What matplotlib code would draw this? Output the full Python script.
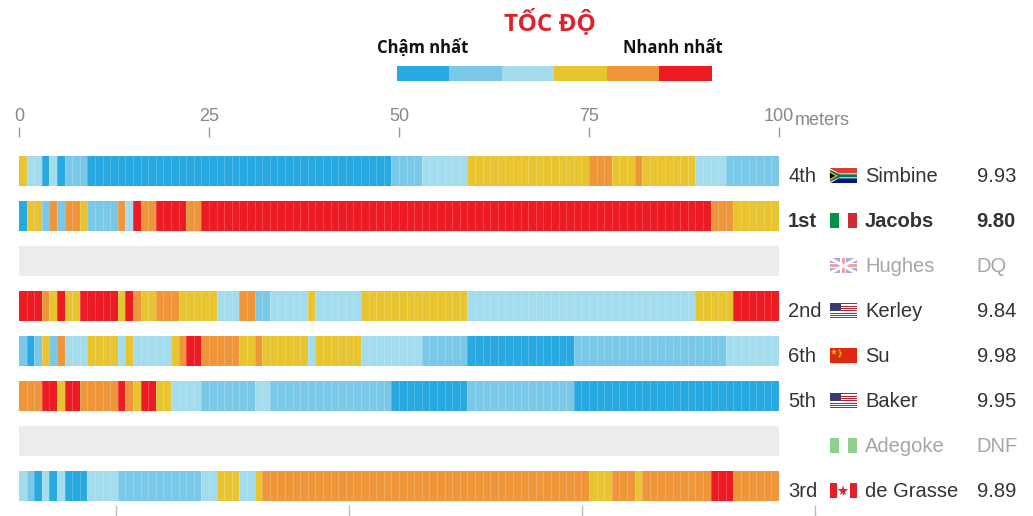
import numpy as np
import matplotlib
matplotlib.use("Agg")
import matplotlib.pyplot as plt
from matplotlib.patches import Polygon

plt.rcParams['font.family'] = ['Liberation Sans', 'DejaVu Sans']

# speed level per metre, 0 = slowest ... 5 = fastest (None = no data)
speed_colors = ['#29a9e1', '#79c8e8', '#a3dcec', '#e8c530', '#f0963a', '#ed1c24']

simbine = ("3220201110" "0000000000" "0000000000" "0000000000" "0000000001"
           "1112222223" "3333333333" "3333344433" "3433333332" "2221111111")
jacobs = ("0331414431" "1114254455" "5544555555" "5555555555" "5555555555"
          "5555555555" "5555555555" "5555555555" "5555555555" "5444333333")
kerley = ("5554353355" "5553543344" "4333332224" "4112222232" "2222233333"
          "3333333332" "2222222222" "2222222222" "2222222223" "3333555555")
su = ("1013142223" "3332322222" "3455444443" "3433333323" "3333322222"
      "2221111110" "0000000000" "0001111111" "1111111111" "1112222222")
baker = ("4445535544" "4445435533" "2222111111" "1221111111" "1111111110"
         "0000000001" "1111111111" "1110000000" "0000000000" "0000000000")
degrasse = ("2102020002" "2221111111" "1111223332" "2344444444" "4444444444"
            "4444444444" "4444444444" "4444433344" "4344444444" "4555444444")

names = ['Simbine', 'Jacobs', 'Hughes', 'Kerley', 'Su', 'Baker', 'Adegoke', 'de Grasse']
ranks = ['4th', '1st', '', '2nd', '6th', '5th', '', '3rd']
times = ['9.93', '9.80', 'DQ', '9.84', '9.98', '9.95', 'DNF', '9.89']
countries = ['RSA', 'ITA', 'GBR', 'USA', 'CHN', 'USA', 'NGR', 'CAN']
speeds = [simbine, jacobs, None, kerley, su, baker, None, degrasse]

x_ticks = [0, 25, 50, 75, 100]
lower_ticks = [12.8, 43.4, 74.1, 104.7]

W, H = 1033, 516
fig = plt.figure(figsize=(W / 100, H / 100), dpi=100)
ax = fig.add_axes([19 / W, 1 - 508.5 / H, 760 / W, 360 / H])
ax.set_xlim(0, 100)
ax.set_ylim(7.5, -0.5)
bh = 30 / 45
px = 100 / 760   # data units per pixel in x
py = 1 / 45      # data units per pixel in y

for i, s in enumerate(speeds):
    if s is None:
        ax.barh(i, 100, left=0, height=bh, color='#ececec', linewidth=0)
        continue
    vals = [int(c) for c in s]
    ax.barh(i, 1, left=np.arange(len(vals)), height=bh,
            color=[speed_colors[v] for v in vals], linewidth=0)
    ax.vlines(np.arange(1, len(vals)), i - bh / 2, i + bh / 2,
              colors='white', alpha=0.2, linewidth=0.7)

ax.vlines(lower_ticks, 7.42, 7.68, colors='#bbbbbb', linewidth=1, clip_on=False)

# top axis
for sp in ax.spines.values():
    sp.set_visible(False)
ax.spines['top'].set_position(('outward', 8.3))
ax.xaxis.tick_top()
ax.set_xticks(x_ticks)
ax.set_xticklabels([str(t) for t in x_ticks])
ax.tick_params(axis='x', top=True, bottom=False, length=7, width=1,
               color='#999999', labelcolor='#888888', labelsize=13, pad=1.5)
ax.set_yticks([])
fig.text(795 / W, 1 - 125 / H, 'meters', color='#888888', fontsize=13, va='baseline')


def flag(ax, name, x0, yc):
    fw, fh = 27, 15

    def P(pts):
        return [(x0 + a * px, yc - fh / 2 * py + b * py) for a, b in pts]

    def rect(a, b, w, h, c):
        ax.add_patch(Polygon(P([(a, b), (a + w, b), (a + w, b + h), (a, b + h)]),
                             closed=True, color=c, linewidth=0, clip_on=False))

    def poly(pts, c):
        ax.add_patch(Polygon(P(pts), closed=True, color=c, linewidth=0, clip_on=False))

    if name == 'RSA':
        rect(0, 0, fw, fh / 2, '#e03c31')
        rect(0, fh / 2, fw, fh / 2, '#001489')
        poly([(0, 0), (9, 5), (fw, 5), (fw, 10), (9, 10), (0, fh)], 'white')
        poly([(0, 1.5), (10, 6), (fw, 6), (fw, 9), (10, 9), (0, 13.5)], '#007749')
        poly([(0, 3), (8, 7.5), (0, 12)], '#ffb81c')
        poly([(0, 4.5), (5.5, 7.5), (0, 10.5)], 'black')
    elif name == 'ITA':
        rect(0, 0, 9, fh, '#009246')
        rect(18, 0, 9, fh, '#ce2b37')
    elif name == 'GBR':
        rect(0, 0, fw, fh, '#a5acd6')
        ax.plot([x0, x0 + fw * px], [yc - fh / 2 * py, yc + fh / 2 * py],
                color='white', lw=2.2, clip_on=False)
        ax.plot([x0, x0 + fw * px], [yc + fh / 2 * py, yc - fh / 2 * py],
                color='white', lw=2.2, clip_on=False)
        rect(10.5, 0, 6, fh, 'white')
        rect(0, 5, fw, 5, 'white')
        rect(12, 0, 3, fh, '#f2a0a8')
        rect(0, 6, fw, 3, '#f2a0a8')
    elif name == 'USA':
        sh = fh / 13
        for k in range(13):
            rect(0, k * sh, fw, sh, '#b22234' if k % 2 == 0 else 'white')
        rect(0, 0, 11, 7 * sh, '#3c3b6e')
    elif name == 'CHN':
        rect(0, 0, fw, fh, '#de2910')
        ax.plot(x0 + 4.5 * px, yc - 3.5 * py, marker='*', color='#ffde00',
                markersize=5, clip_on=False, markeredgewidth=0)
        for a, b in [(9, 1.5), (10.5, 3.5), (10.5, 6), (9, 7.5)]:
            ax.plot(x0 + a * px, yc - fh / 2 * py + b * py, marker='*',
                    color='#ffde00', markersize=2.2, clip_on=False, markeredgewidth=0)
    elif name == 'NGR':
        rect(0, 0, 9, fh, '#8fcf8f')
        rect(18, 0, 9, fh, '#8fcf8f')
    elif name == 'CAN':
        rect(0, 0, 7, fh, '#e3202a')
        rect(20, 0, 7, fh, '#e3202a')
        ax.plot(x0 + 13.5 * px, yc + 0.3 * py, marker='*', color='#e3202a',
                markersize=8, clip_on=False, markeredgewidth=0)
        rect(13, 9, 1, 3, '#e3202a')


for i in range(len(names)):
    grey = speeds[i] is None
    col = '#a6a6a6' if grey else '#333333'
    fw_ = 'bold' if ranks[i] == '1st' else 'normal'
    yb = i + 0.245
    ax.text(101.2, yb, ranks[i], color=col, fontsize=14.5, fontweight=fw_,
            va='baseline', ha='left', clip_on=False)
    ax.text(111.3, yb, names[i], color=col, fontsize=14.5, fontweight=fw_,
            va='baseline', ha='left', clip_on=False)
    ax.text(126.0, yb, times[i], color=col, fontsize=14.5, fontweight=fw_,
            va='baseline', ha='left', clip_on=False)
    flag(ax, countries[i], 106.7, i + 0.107)

# legend
lax = fig.add_axes([396.7 / W, 1 - 81 / H, 315 / W, 15 / H])
lax.barh(0, 1, left=np.arange(len(speed_colors)), height=1,
         color=speed_colors, linewidth=0)
lax.set_xlim(0, len(speed_colors))
lax.set_ylim(-0.5, 0.5)
lax.axis('off')

leg_font = ['Open Sans', 'DejaVu Sans']
fig.text(550 / W, 1 - 30.5 / H, 'TỐC ĐỘ', color='#e0202a', fontsize=17.5,
         fontweight='bold', ha='center', va='baseline', family=leg_font)
fig.text(377 / W, 1 - 53 / H, 'Chậm nhất', color='#111111', fontsize=12,
         fontweight='bold', ha='left', va='baseline', family=leg_font)
fig.text(723 / W, 1 - 53 / H, 'Nhanh nhất', color='#111111', fontsize=12,
         fontweight='bold', ha='right', va='baseline', family=leg_font)

fig.savefig('out.png', dpi=100, facecolor='white')
